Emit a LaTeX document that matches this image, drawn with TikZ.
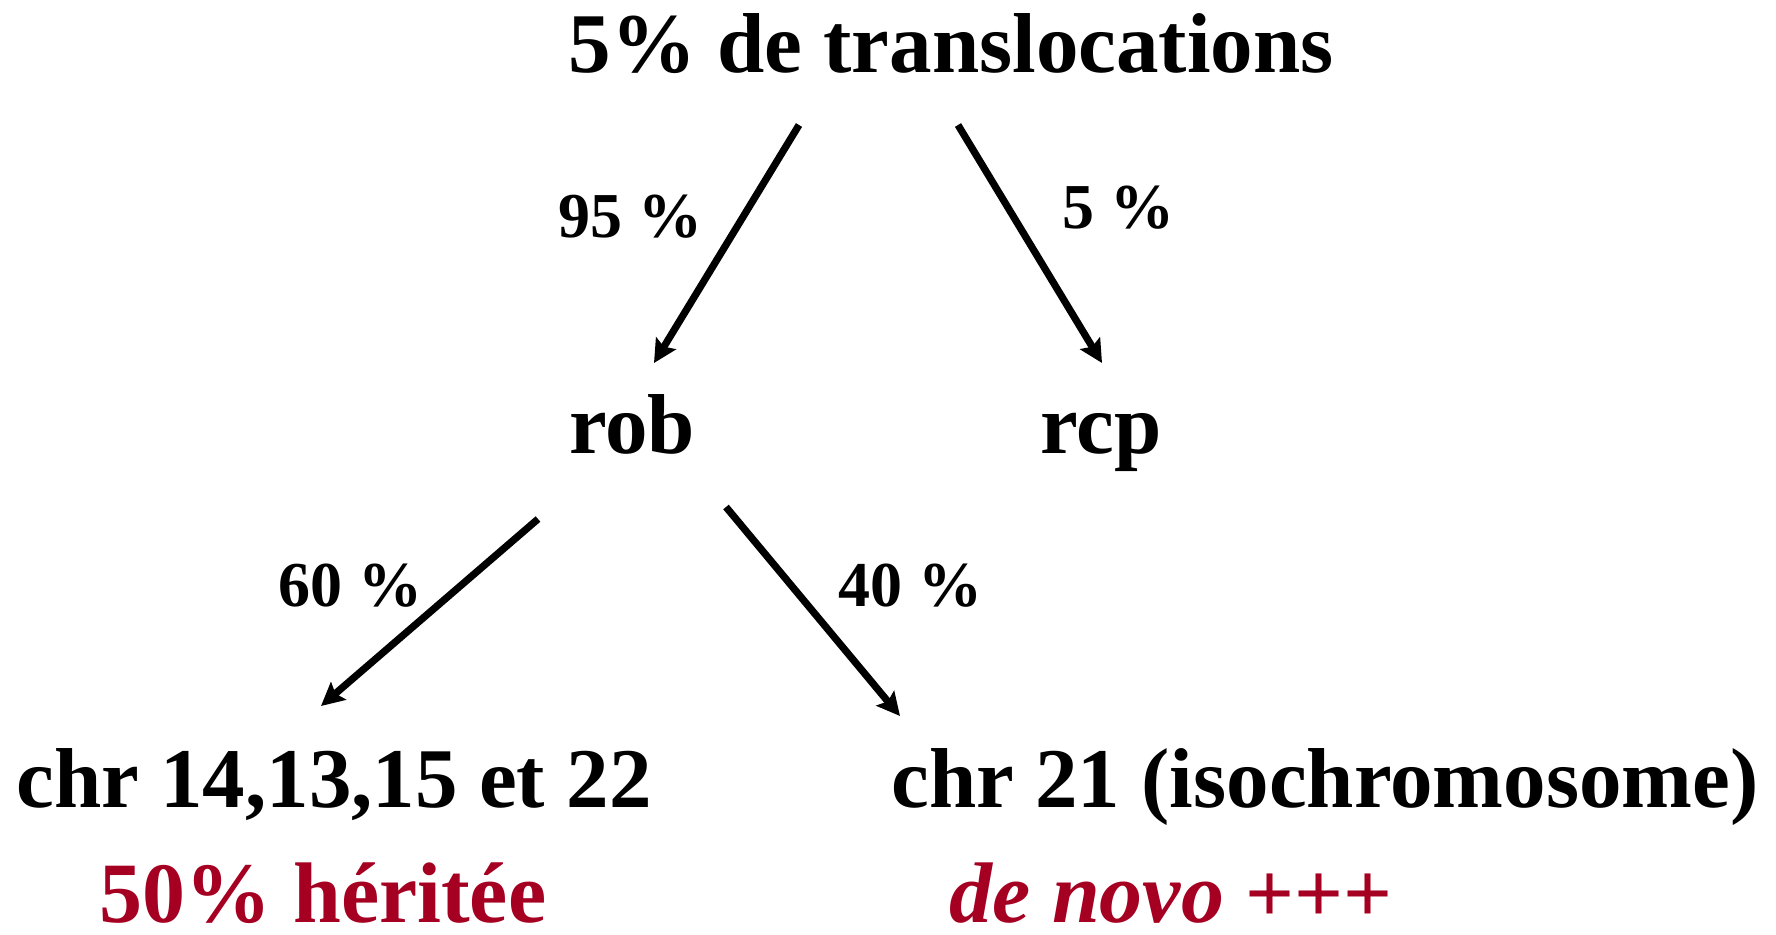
\documentclass[tikz,border=0pt]{standalone}
\usepackage{fontspec}
\setmainfont{Liberation Serif}
\usetikzlibrary{arrows.meta}
\definecolor{darkred}{HTML}{A50021}
\begin{document}
\begin{tikzpicture}[x=0.5pt,y=-0.5pt,
  lbl/.style={font=\bfseries\fontsize{42.5}{50}\selectfont, anchor=base, inner sep=0},
  pct/.style={font=\bfseries\fontsize{32}{38}\selectfont, anchor=base, inner sep=0},
  note/.style={font=\bfseries\fontsize{43}{50}\selectfont, anchor=base, inner sep=0,
    text depth=0pt, text=darkred},
  arr/.style={-{Stealth[length=11.5pt,width=11.5pt,inset=2pt]}, line width=3.6pt}]
\useasboundingbox (0,0) rectangle (1776,934);

% labels
\node[lbl] (top) at (951,72) {5\% de translocations};
\node[pct] (p95) at (630,237) {95 \%};
\node[pct] (p5) at (1118,228) {5 \%};
\node[lbl] (rob) at (632,453) {rob};
\node[lbl] (rcp) at (1101,453) {rcp};
\node[pct] (p60) at (350,606) {60 \%};
\node[pct] (p40) at (910,606) {40 \%};
\node[lbl] (chrA) at (334,807) {chr 14,13,15 et 22};
\node[lbl] (chrB) at (1325,807) {chr 21 (isochromosome)};
\node[note] (her) at (323,922) {50\% héritée};
\node[note] (nov) at (1171,922) {\textit{de novo} +++};

% arrow ends
\coordinate (topL) at (799,125);
\coordinate (topR) at (958,125);
\coordinate (robIn) at (654,363);
\coordinate (rcpIn) at (1102,363);
\coordinate (robL) at (538,519);
\coordinate (robR) at (726,507);
\coordinate (chrAIn) at (321,706);
\coordinate (chrBIn) at (900,716);

% arrows
\draw[arr] (topL) -- (robIn);
\draw[arr] (topR) -- (rcpIn);
\draw[arr] (robL) -- (chrAIn);
\draw[arr] (robR) -- (chrBIn);
\end{tikzpicture}
\end{document}
